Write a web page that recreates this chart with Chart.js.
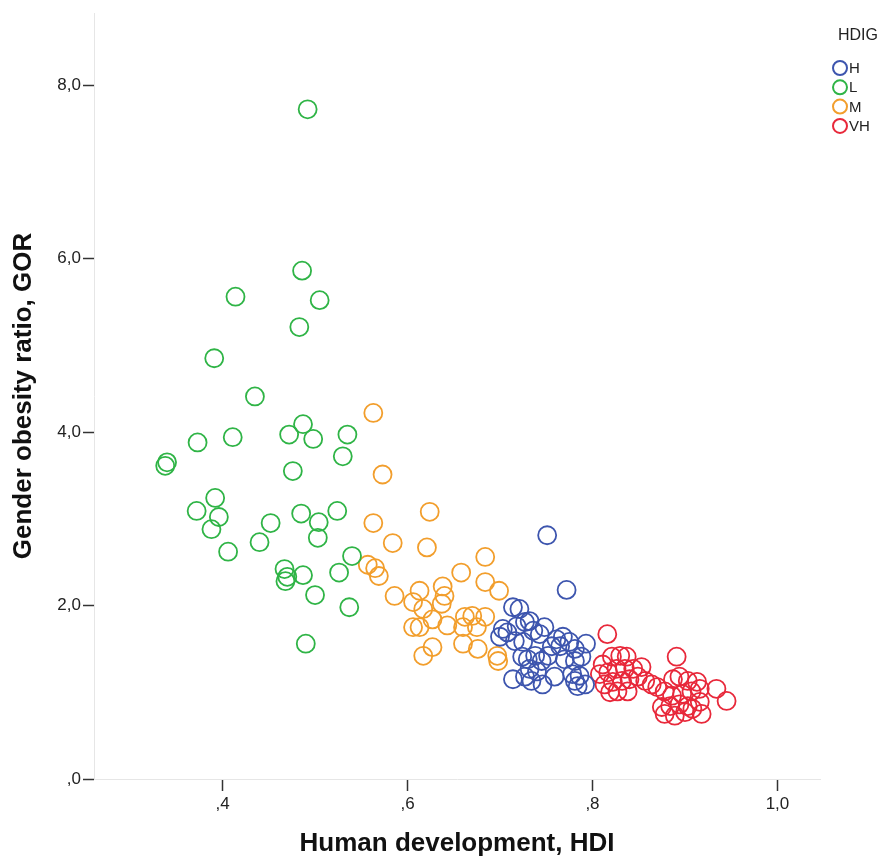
<!DOCTYPE html>
<html>
<head>
<meta charset="utf-8">
<title>Gender obesity ratio vs HDI</title>
<script src="https://cdn.jsdelivr.net/npm/chart.js@4.4.0/dist/chart.umd.min.js"></script>
<style>
  html, body { margin: 0; padding: 0; background: #fff; }
  #wrap { width: 885px; height: 861px; }
</style>
</head>
<body>
<div id="wrap"><canvas id="scatter" width="885" height="861"></canvas></div>
<script>
// --- DATA ---

const legendTitle = 'HDIG';
const groups = ['H', 'L', 'M', 'VH'];
const groupColors = ['#3d55ae', '#2fb446', '#f29e2c', '#e8283a'];

const xTicks = [0.4, 0.6, 0.8, 1.0];
const yTicks = [0, 2, 4, 6, 8];

// H
const hdiH = [0.751, 0.772, 0.714, 0.721, 0.703, 0.708, 0.700, 0.718, 0.727, 0.732,
              0.736, 0.748, 0.743, 0.761, 0.768, 0.775, 0.765, 0.756, 0.781, 0.716,
              0.725, 0.724, 0.730, 0.738, 0.745, 0.752, 0.714, 0.727, 0.734, 0.746,
              0.759, 0.770, 0.781, 0.788, 0.778, 0.786, 0.781, 0.792, 0.784, 0.732,
              0.740, 0.793];
const gorH = [2.81, 2.18, 1.98, 1.96, 1.73, 1.69, 1.64, 1.76, 1.81, 1.82,
              1.71, 1.75, 1.67, 1.61, 1.64, 1.58, 1.53, 1.53, 1.50, 1.59,
              1.58, 1.41, 1.38, 1.42, 1.36, 1.42, 1.15, 1.18, 1.13, 1.09,
              1.18, 1.38, 1.36, 1.41, 1.21, 1.19, 1.13, 1.09, 1.07, 1.27,
              1.24, 1.56];

// L
const hdiL = [0.492, 0.486, 0.414, 0.505, 0.483, 0.391, 0.435, 0.487, 0.472, 0.498,
              0.411, 0.535, 0.373, 0.530, 0.340, 0.338, 0.476, 0.392, 0.372, 0.396,
              0.388, 0.452, 0.485, 0.504, 0.524, 0.503, 0.440, 0.406, 0.540, 0.526,
              0.467, 0.470, 0.468, 0.487, 0.500, 0.537, 0.490];
const gorL = [7.72, 5.86, 5.56, 5.52, 5.21, 4.85, 4.41, 4.09, 3.97, 3.92,
              3.94, 3.97, 3.88, 3.72, 3.65, 3.61, 3.55, 3.24, 3.09, 3.02,
              2.88, 2.95, 3.06, 2.96, 3.09, 2.78, 2.73, 2.62, 2.57, 2.38,
              2.42, 2.33, 2.28, 2.35, 2.12, 1.98, 1.56];

// M
const hdiM = [0.563, 0.573, 0.624, 0.563, 0.584, 0.621, 0.684, 0.557, 0.565, 0.569,
              0.658, 0.684, 0.699, 0.586, 0.613, 0.638, 0.640, 0.606, 0.637, 0.617,
              0.662, 0.670, 0.684, 0.606, 0.613, 0.643, 0.660, 0.675, 0.627, 0.660,
              0.627, 0.617, 0.676, 0.697, 0.698];
const gorM = [4.22, 3.51, 3.08, 2.95, 2.72, 2.67, 2.56, 2.47, 2.43, 2.34,
              2.38, 2.27, 2.17, 2.11, 2.17, 2.22, 2.11, 2.04, 2.02, 1.96,
              1.87, 1.88, 1.87, 1.75, 1.75, 1.77, 1.75, 1.75, 1.84, 1.56,
              1.52, 1.42, 1.50, 1.42, 1.36];

// VH
const hdiVH = [0.816, 0.891, 0.811, 0.821, 0.830, 0.837, 0.808, 0.817, 0.826, 0.835,
               0.844, 0.853, 0.813, 0.822, 0.832, 0.840, 0.849, 0.819, 0.827, 0.838,
               0.857, 0.864, 0.870, 0.878, 0.887, 0.894, 0.903, 0.913, 0.886, 0.897,
               0.907, 0.916, 0.875, 0.884, 0.894, 0.903, 0.916, 0.878, 0.889, 0.900,
               0.908, 0.918, 0.934, 0.945];
const gorVH = [1.67, 1.41, 1.32, 1.41, 1.42, 1.41, 1.21, 1.23, 1.27, 1.27,
               1.27, 1.29, 1.09, 1.12, 1.13, 1.15, 1.18, 1.00, 1.01, 1.01,
               1.13, 1.09, 1.06, 1.01, 1.15, 1.18, 1.13, 1.12, 0.96, 0.98,
               1.01, 1.04, 0.83, 0.84, 0.86, 0.84, 0.89, 0.75, 0.73, 0.77,
               0.81, 0.75, 1.04, 0.90];

const seriesX = [hdiH, hdiL, hdiM, hdiVH];
const seriesY = [gorH, gorL, gorM, gorVH];

// --- CHART ---

const FONT = '"Liberation Sans", Arial, Helvetica, sans-serif';
Chart.defaults.font.family = FONT;

// SPSS style decimal comma, no leading zero
const fmt = v => v.toFixed(1).replace('.', ',').replace(/^0,/, ',');

const datasets = groups.map((g, i) => ({
    label: g,
    data: seriesX[i].map((x, j) => ({ x: x, y: seriesY[i][j] })),
    borderColor: groupColors[i],
    backgroundColor: 'rgba(0,0,0,0)',
    borderWidth: 1.8,
    pointRadius: 9,
    pointStyle: 'circle'
}));

const legendPlugin = {
    id: 'hdigLegend',
    afterDraw(chart) {
        const ctx = chart.ctx;
        ctx.save();
        ctx.fillStyle = '#222';
        ctx.textBaseline = 'middle';
        ctx.textAlign = 'left';
        ctx.font = '16px ' + FONT;
        ctx.fillText(legendTitle, 838, 36);
        ctx.font = '15px ' + FONT;
        groups.forEach((g, i) => {
            const y = 68 + i * 19.3;
            ctx.beginPath();
            ctx.arc(840, y, 7, 0, Math.PI * 2);
            ctx.strokeStyle = groupColors[i];
            ctx.lineWidth = 2;
            ctx.stroke();
            ctx.fillStyle = '#222';
            ctx.fillText(g, 849, y + 1);
        });
        ctx.restore();
    }
};

new Chart(document.getElementById('scatter'), {
    type: 'scatter',
    data: { datasets: datasets },
    options: {
        responsive: false,
        animation: false,
        layout: { padding: { top: 13, right: 65, bottom: 0, left: 0 } },
        plugins: {
            legend: { display: false },
            tooltip: { enabled: false }
        },
        scales: {
            x: {
                type: 'linear',
                min: 0.261,
                max: 1.046,
                afterFit: s => { s.height = 82; },
                afterBuildTicks: s => { s.ticks = xTicks.map(v => ({ value: v })); },
                border: { color: '#e6e6e6', width: 1 },
                grid: { drawOnChartArea: false, tickLength: 12, tickColor: '#333', tickWidth: 1.5 },
                ticks: { padding: 3, color: '#222', font: { size: 17 }, callback: v => fmt(v) },
                title: {
                    display: true,
                    text: 'Human development, HDI',
                    color: '#111',
                    font: { size: 26, weight: 'bold' },
                    padding: { top: 4, bottom: 2 }
                }
            },
            y: {
                type: 'linear',
                min: 0,
                max: 8.83,
                afterFit: s => { s.width = 94; },
                afterBuildTicks: s => { s.ticks = yTicks.map(v => ({ value: v })); },
                border: { color: '#e6e6e6', width: 1 },
                grid: { drawOnChartArea: false, tickLength: 11, tickColor: '#333', tickWidth: 1.5 },
                ticks: { padding: 2, color: '#222', font: { size: 17 }, callback: v => fmt(v) },
                title: {
                    display: true,
                    text: 'Gender obesity ratio, GOR',
                    color: '#111',
                    font: { size: 26, weight: 'bold' },
                    padding: { top: 8, bottom: 4 }
                }
            }
        }
    },
    plugins: [legendPlugin]
});
</script>
</body>
</html>
